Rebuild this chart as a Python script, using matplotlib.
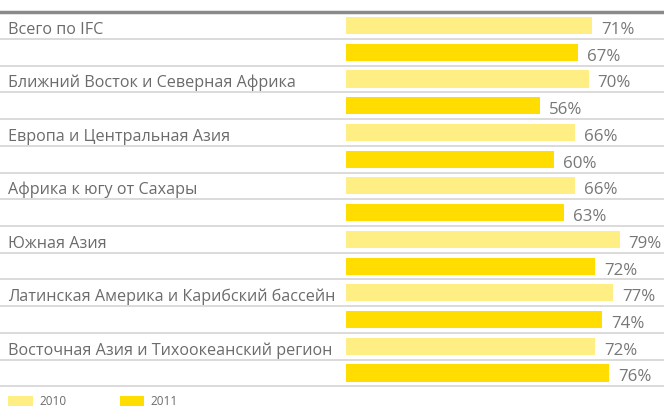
import matplotlib
matplotlib.use("Agg")
import matplotlib.pyplot as plt

plt.rcParams['font.family'] = ['Open Sans', 'DejaVu Sans']

regions = [
    "Всего по IFC",
    "Ближний Восток и Северная Африка",
    "Европа и Центральная Азия",
    "Африка к югу от Сахары",
    "Южная Азия",
    "Латинская Америка и Карибский бассейн",
    "Восточная Азия и Тихоокеанский регион",
]
values_2010 = [71, 70, 66, 66, 79, 77, 72]
values_2011 = [67, 56, 60, 63, 72, 74, 76]
years = ["2010", "2011"]

color_2010 = "#FFEE84"
color_2011 = "#FFDD00"
text_color = "#6b6b6b"

W, H = 664, 408
fig = plt.figure(figsize=(W / 100, H / 100), dpi=100)
ax = fig.add_axes([0, 0, 1, 1])

# pixel mapping: x=0 at 346px, 3.465 px per percent; row pitch 26.73px
px_per_pct = 3.465
x0 = 346
ax.set_xlim(-x0 / px_per_pct, (W - x0) / px_per_pct)
pitch = 26.73
first = 25.5
ax.set_ylim((H - first) / pitch, -first / pitch)
ax.axis("off")

n = len(regions)
pos_2010 = [2 * i for i in range(n)]
pos_2011 = [2 * i + 1 for i in range(n)]

b1 = ax.barh(pos_2010, values_2010, height=0.64, color=color_2010, label=years[0])
b2 = ax.barh(pos_2011, values_2011, height=0.64, color=color_2011, label=years[1])

base = 8.5 / pitch
for p, v in zip(pos_2010 + pos_2011, values_2010 + values_2011):
    ax.text(v + 9 / px_per_pct, p + base, f"{v}%", va="baseline", ha="left",
            fontsize=12.2, color="#777777")

left = -x0 / px_per_pct + 8 / px_per_pct
for p, name in zip(pos_2010, regions):
    ax.text(left, p + base, name, va="baseline", ha="left", fontsize=11.6, color=text_color)

# separators
ax.axhline(-0.5, color="#8a8a8a", lw=2.5)
for k in range(2 * n):
    ax.axhline(k + 0.5, color="#d4d4d4", lw=1.2)

leg = ax.legend(handles=[b1, b2], loc="lower left", bbox_to_anchor=(8 / W, 0),
                ncol=2, frameon=False, fontsize=8.5, handlelength=2.1, handleheight=0.9,
                handletextpad=0.55, columnspacing=4.5, borderpad=0, borderaxespad=0)
for t in leg.get_texts():
    t.set_color(text_color)

fig.savefig("out.png", dpi=100)
